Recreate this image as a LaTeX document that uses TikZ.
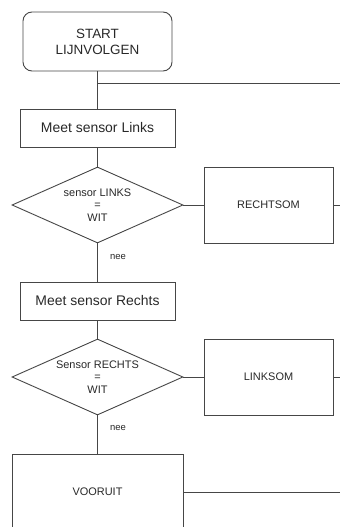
\documentclass[tikz,border=0pt]{standalone}
\usepackage{fontspec}
\setmainfont{Liberation Sans}
\usetikzlibrary{shapes.geometric}
\definecolor{lijn}{RGB}{70,70,70}
\definecolor{tekst}{RGB}{40,40,40}
\tikzstyle{startbox}=[draw=lijn,rounded corners=9bp,minimum width=149bp,minimum height=59bp,inner sep=0pt,align=center,font=\fontsize{13.5}{16}\selectfont]
\tikzstyle{meetbox}=[draw=lijn,minimum width=155bp,minimum height=38bp,inner sep=0pt,font=\fontsize{14}{16}\selectfont]
\tikzstyle{keuze}=[draw=lijn,diamond,aspect=2.25,minimum width=171bp,minimum height=76bp,inner sep=0pt,align=center,font=\fontsize{11}{12.5}\selectfont]
\tikzstyle{actie}=[draw=lijn,minimum width=129bp,minimum height=76bp,inner sep=0pt,font=\fontsize{11}{12.5}\selectfont]
\tikzstyle{bigactie}=[actie,minimum width=171bp]
\tikzstyle{label}=[inner sep=0pt,font=\fontsize{9.5}{10}\selectfont]
\tikzstyle{edge}=[draw=lijn,line width=0.9bp,-]

\begin{document}
\begin{tikzpicture}[x=1bp,y=-1bp,line width=0.9bp,text=tekst]
    \useasboundingbox (0,0) rectangle (340,527);
    \clip (0,0) rectangle (340,527);
    % First we draw the blocks
    \node[startbox] (start) at (97.5,41.5) {START\\LIJNVOLGEN};
    \node[meetbox] (links) at (97.5,128) {Meet sensor Links};
    \node[keuze] (wit1) at (97.5,205) {sensor LINKS\\=\\WIT};
    \node[actie] (rechtsom) at (268.5,205) {RECHTSOM};
    \node[meetbox] (rechts) at (97.5,301) {Meet sensor Rechts};
    \node[keuze] (wit2) at (97.5,377) {Sensor RECHTS\\=\\WIT};
    \node[actie] (linksom) at (268.5,377) {LINKSOM};
    \node[bigactie] (vooruit) at (97.5,492) {VOORUIT};

    % the labels
    \node[label] (nee1) at (118,257) {nee};
    \node[label] (nee2) at (118,428) {nee};

    % free ends on the right
    \coordinate (terug) at (start.south |- 0,83);
    \foreach \name/\y in {r0/83, r1/205, r2/377, r3/492}
        \coordinate (\name) at (340,\y);

    % Connect blocks with edges
    \foreach \source/ \dest in {start/links, links/wit1, wit1/rechts, rechts/wit2, wit2/vooruit}
        \path[edge] (\source) -- (\dest);
    \foreach \source/ \dest in {wit1/rechtsom, wit2/linksom}
        \path[edge] (\source) -- (\dest);
    \path[edge] (terug) -- (r0);
    \foreach \source/ \dest in {rechtsom.east/r1, linksom.east/r2, vooruit.east/r3}
        \path[edge] (\source) -- (\dest);
\end{tikzpicture}
\end{document}
